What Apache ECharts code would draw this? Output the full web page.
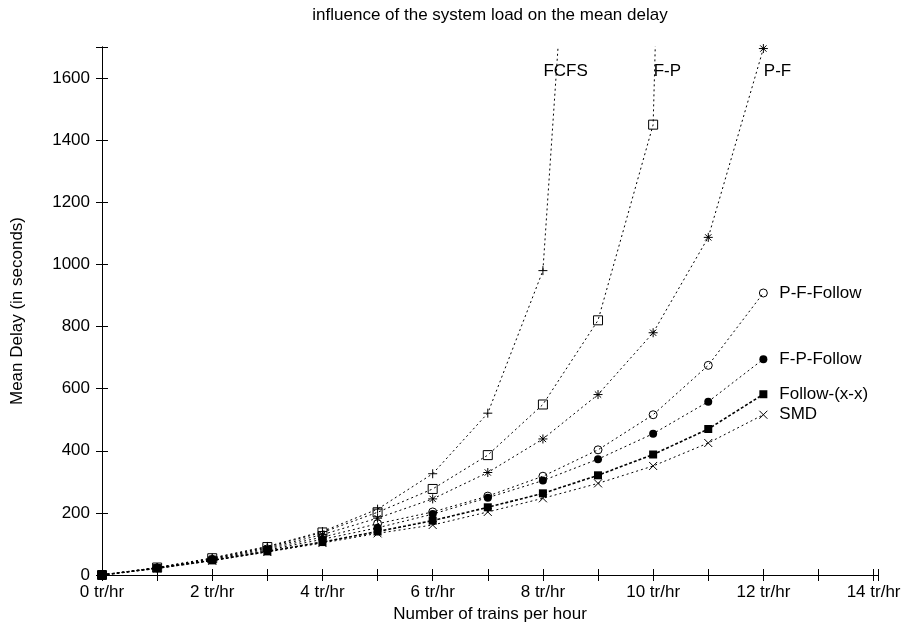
<!DOCTYPE html>
<html>
<head>
<meta charset="utf-8">
<script src="https://cdn.jsdelivr.net/npm/echarts@6/dist/echarts.min.js"></script>
<style>
  html, body { margin: 0; padding: 0; background: #fff; }
  #chart { width: 902px; height: 627px; }
</style>
</head>
<body>
<div id="chart"></div>
<script>
// trains per hour
const load = [0, 1, 2, 3, 4, 5, 6, 7, 8, 9, 10, 11, 12]

// mean delay in seconds, one array per strategy (last points of FCFS / F-P run off the top)
const fcfs = [0, 24, 55, 92, 140, 212, 326, 521, 980, 3600]
const fp = [0, 24, 54, 90, 137, 202, 277, 386, 549, 820, 1450, 8000]
const pf = [0, 23, 52, 87, 130, 183, 245, 330, 438, 581, 780, 1087, 1695]
const pfFollow = [0, 23, 51, 84, 122, 165, 203, 254, 318, 403, 516, 675, 908]
const fpFollow = [0, 22, 49, 80, 115, 152, 196, 249, 304, 373, 455, 558, 695]
const followXX = [0, 22, 47, 76, 106, 140, 175, 218, 263, 321, 388, 470, 582]
const smd = [0, 21, 46, 74, 103, 134, 161, 203, 247, 295, 351, 425, 516]

const FONT = "'Liberation Sans', Arial, Helvetica, sans-serif"
const FS = 17

const plus = 'path://M0,5L10,5M5,0L5,10'
const cross = 'path://M0,0L10,10M0,10L10,0'
const star = 'path://M0,5L10,5M5,0L5,10M1.5,1.5L8.5,8.5M1.5,8.5L8.5,1.5'

const pts = vals => vals.map((v, i) => [load[i], v])

const openMark = { color: 'transparent', borderColor: '#000', borderWidth: 1 }
const filledMark = { color: '#000', borderColor: '#000', borderWidth: 0 }

// gnuplot-style text labels at the top of the steep curves
const topLabel = (text, x) => ({
  symbol: 'circle',
  symbolSize: 1,
  itemStyle: { color: 'transparent' },
  data: [{ coord: [x, 1622] }],
  label: {
    show: true, position: 'right', distance: 0, formatter: text,
    color: '#000', fontFamily: FONT, fontSize: FS
  }
})

const endLabel = {
  show: true, distance: 16, formatter: '{a}',
  color: '#000', fontFamily: FONT, fontSize: FS
}

const mkSeries = (name, vals, symbol, size, item, dash, width, extra) => Object.assign({
  name,
  type: 'line',
  data: pts(vals),
  symbol,
  symbolSize: size,
  showAllSymbol: true,
  clip: true,
  itemStyle: item,
  lineStyle: { color: '#000', width: width, type: dash },
  emphasis: { disabled: true }
}, extra || {})

const chart = echarts.init(document.getElementById('chart'))

const axisCommon = {
  axisLine: { show: true, lineStyle: { color: '#000', width: 1 } },
  axisTick: { show: true, inside: true, length: 6, lineStyle: { color: '#000' } },
  splitLine: { show: false },
  nameTextStyle: { color: '#000', fontFamily: FONT, fontSize: FS }
}

chart.setOption({
  animation: false,
  backgroundColor: '#fff',
  grid: { left: 102, right: 24, top: 47, bottom: 52, outerBoundsMode: 'none', containLabel: false },
  xAxis: [
    Object.assign({}, axisCommon, {
      type: 'value', position: 'bottom', min: 0, max: 14.08, interval: 1,
      name: 'Number of trains per hour', nameLocation: 'middle', nameGap: 31,
      axisLabel: {
        color: '#000', fontFamily: FONT, fontSize: FS, margin: 9,
        formatter: v => (Number.isInteger(v) && v % 2 === 0 ? v + ' tr/hr' : '')
      }
    }),
    Object.assign({}, axisCommon, {
      type: 'value', position: 'top', min: 0, max: 14.08, interval: 1,
      name: 'influence of the system load on the mean delay', nameLocation: 'middle', nameGap: 23,
      axisLabel: { show: false }
    })
  ],
  yAxis: [
    Object.assign({}, axisCommon, {
      type: 'value', position: 'left', min: 0, max: 1700, interval: 200,
      name: 'Mean Delay (in seconds)', nameLocation: 'middle', nameGap: 76,
      axisLabel: {
        color: '#000', fontFamily: FONT, fontSize: FS, margin: 12,
        formatter: v => (v % 200 === 0 ? String(v) : '')
      }
    }),
    Object.assign({}, axisCommon, {
      type: 'value', position: 'right', min: 0, max: 1700, interval: 200,
      axisLabel: { show: false }
    })
  ],
  series: [
    mkSeries('FCFS', fcfs, plus, 9, openMark, [2, 3], 1, { markPoint: topLabel('FCFS', 8) }),
    mkSeries('F-P', fp, 'rect', 9, openMark, [2, 3], 1, { markPoint: topLabel('F-P', 10) }),
    mkSeries('P-F', pf, star, 9, openMark, [2, 3], 1, { markPoint: topLabel('P-F', 12) }),
    mkSeries('P-F-Follow', pfFollow, 'circle', 8, openMark, [2, 3], 1, { endLabel }),
    mkSeries('F-P-Follow', fpFollow, 'circle', 8, filledMark, [2, 3], 1, { endLabel }),
    mkSeries('Follow-(x-x)', followXX, 'rect', 8, filledMark, [3, 2], 1.6, { endLabel }),
    mkSeries('SMD', smd, cross, 8, openMark, [2, 3], 1, { endLabel })
  ]
})

window.addEventListener('resize', () => chart.resize())
</script>
</body>
</html>
